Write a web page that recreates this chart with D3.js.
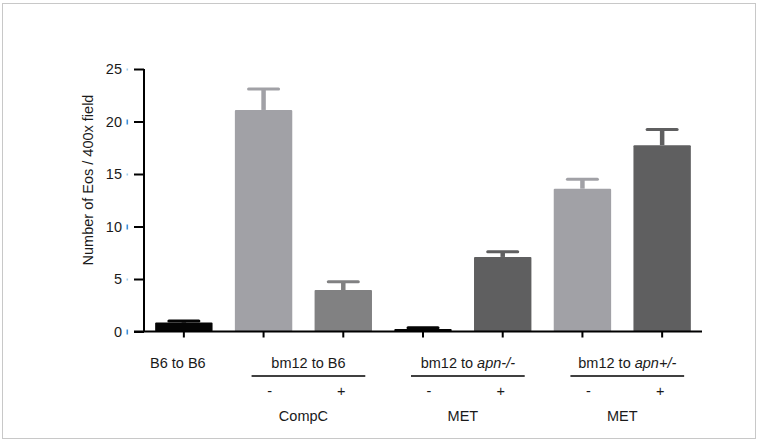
<!DOCTYPE html>
<html>
<head>
<meta charset="utf-8">
<script src="https://cdn.jsdelivr.net/npm/d3@7"></script>
<style>
  html, body { margin: 0; padding: 0; background: #fff; }
  svg { display: block; font-family: Arial, "Liberation Sans", sans-serif; }
</style>
</head>
<body>
<svg id="chart" width="759" height="444"></svg>
<script>
// ---- data ----
const barIds   = ["b6", "bm12B6_neg", "bm12B6_pos", "apnKO_neg", "apnKO_pos", "apnHet_neg", "apnHet_pos"];
const means    = [0.85, 21.1, 3.95, 0.25, 7.1, 13.6, 17.75];
const errors   = [0.15, 2.0, 0.8, 0.1, 0.5, 0.9, 1.5];
const signs    = ["", "-", "+", "-", "+", "-", "+"];
const yTicks   = [0, 5, 10, 15, 20, 25];
const groupMain   = ["B6 to B6", "bm12 to ", "bm12 to ", "bm12 to "];
const groupItalic = ["", "", "apn-/-", "apn+/-"];
const groupPlain2 = ["", "B6", "", ""];
const groupBars   = [[0], [1, 2], [3, 4], [5, 6]];
const treatments  = ["", "CompC", "MET", "MET"];
const yLabel = "Number of Eos / 400x field";

// ---- styles ----
const barColors = ["#050505", "#a1a1a6", "#818182", "#050505", "#5f5f60", "#a1a1a6", "#5f5f60"];
const textColor = "#1a1a1a";

const svg = d3.select("#chart");

// outer frame
svg.append("rect").attr("x", 2.5).attr("y", 3.5).attr("width", 753).attr("height", 435)
  .attr("fill", "#fff").attr("stroke", "#c8c8c8").attr("stroke-width", 1);

const x = d3.scaleBand().domain(barIds).range([144, 702]).paddingInner(0.28).paddingOuter(0.14);
const y = d3.scaleLinear().domain([0, 25]).range([331.5, 69]);

// bars
svg.append("g").selectAll("rect").data(barIds).join("rect")
  .attr("x", d => x(d))
  .attr("y", (d, i) => y(means[i]))
  .attr("width", x.bandwidth())
  .attr("height", (d, i) => y(0) - y(means[i]))
  .attr("rx", 1)
  .attr("fill", (d, i) => barColors[i]);

// error bars (upper only)
const eg = svg.append("g");
barIds.forEach((d, i) => {
  const cx = x(d) + x.bandwidth() / 2;
  eg.append("line").attr("x1", cx).attr("x2", cx)
    .attr("y1", y(means[i])).attr("y2", y(means[i] + errors[i]))
    .attr("stroke", barColors[i]).attr("stroke-width", 4.5);
  eg.append("line").attr("x1", cx - 15).attr("x2", cx + 15)
    .attr("y1", y(means[i] + errors[i])).attr("y2", y(means[i] + errors[i]))
    .attr("stroke", barColors[i]).attr("stroke-width", 3).attr("stroke-linecap", "round");
});

// y axis
const yAxis = d3.axisLeft(y).tickValues(yTicks).tickSize(10).tickPadding(12);
const yg = svg.append("g").attr("transform", "translate(144,0)").call(yAxis);
yg.select(".domain").attr("stroke", "#000").attr("stroke-width", 2).attr("d", `M0,${y(25)}V${y(0)}`);
yg.selectAll(".tick line").attr("stroke", "#000").attr("stroke-width", 2);
yg.selectAll(".tick text").attr("font-size", 14.5).attr("fill", textColor)
  .attr("font-family", 'Arial, "Liberation Sans", sans-serif');
// small blue scanner marks next to tick labels
yg.selectAll(".tick").append("rect")
  .attr("x", -17.5).attr("width", 1.6)
  .attr("y", d => (d % 10 === 0 ? -2.5 : -1))
  .attr("height", d => (d % 10 === 0 ? 5 : 2))
  .attr("fill", d => (d % 10 === 0 ? "#3d8fdc" : "#9fcdee"));

// x axis
const xAxis = d3.axisBottom(x).tickSize(6).tickFormat("");
const xg = svg.append("g").attr("transform", `translate(0,${y(0)})`).call(xAxis);
xg.select(".domain").attr("stroke", "#000").attr("stroke-width", 2).attr("d", "M134,0H702");
xg.selectAll(".tick line").attr("stroke", "#000").attr("stroke-width", 2);

// y label
svg.append("text")
  .attr("transform", "translate(93,180) rotate(-90)")
  .attr("text-anchor", "middle")
  .attr("font-size", 14.5).attr("fill", textColor)
  .text(yLabel);

// group labels
const lg = svg.append("g").attr("fill", textColor).attr("font-size", 14.5);
groupBars.forEach((bars, g) => {
  const c1 = x(barIds[bars[0]]) + x.bandwidth() / 2;
  const c2 = x(barIds[bars[bars.length - 1]]) + x.bandwidth() / 2;
  let mid, left, right;
  if (bars.length === 1) {
    mid = c1 - 6;
  } else {
    left = c1 - 12; right = c2 + 22; mid = (left + right) / 2;
  }
  const t = lg.append("text").attr("x", mid).attr("y", 368).attr("text-anchor", "middle");
  t.append("tspan").text(groupMain[g]);
  if (groupItalic[g]) t.append("tspan").attr("font-style", "italic").text(groupItalic[g]);
  if (groupPlain2[g]) t.append("tspan").text(groupPlain2[g]);
  if (bars.length > 1) {
    lg.append("line").attr("x1", left).attr("x2", right).attr("y1", 376).attr("y2", 376)
      .attr("stroke", "#000").attr("stroke-width", 1.5);
    bars.forEach((b, k) => {
      const c = x(barIds[b]) + x.bandwidth() / 2 + (k === 0 ? 6 : -2);
      lg.append("text").attr("x", c).attr("y", 396).attr("text-anchor", "middle").text(signs[b]);
    });
    lg.append("text").attr("x", (c1 + c2) / 2).attr("y", 421).attr("text-anchor", "middle")
      .text(treatments[g]);
  }
});
</script>
</body>
</html>
